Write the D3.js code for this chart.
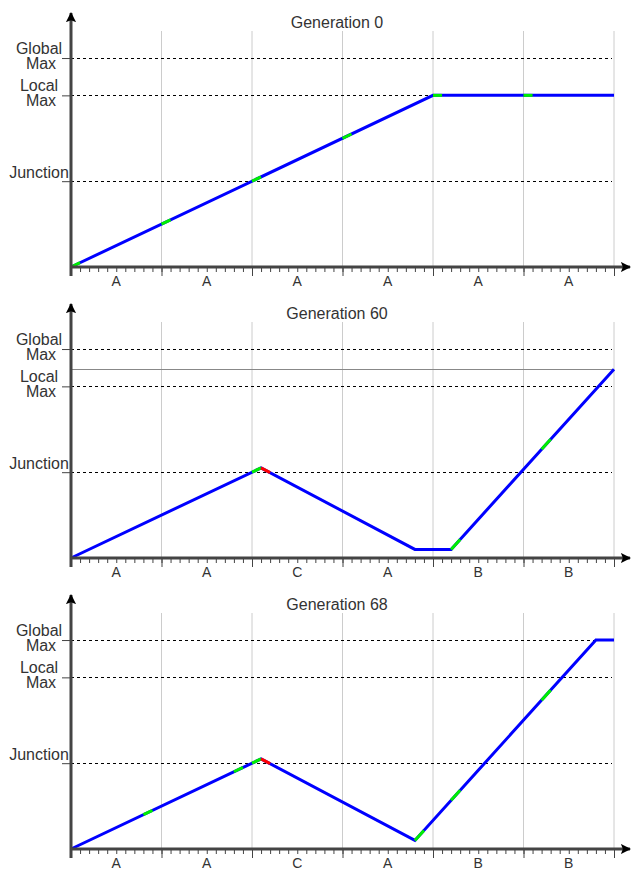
<!DOCTYPE html>
<html>
<meta charset="utf-8">
<style>
  body { margin: 0; background: #fff; }
  text { font-family: "Liberation Sans", Arial, sans-serif; fill: #333; }
  .grid { stroke: #ccc; stroke-width: 1px; }
  .ref { stroke: #000; stroke-width: 1px; stroke-dasharray: 3,3; }
  .axis path, .axis line { stroke: #444; }
</style>
<body>
<div id="viz"></div>
<script src="https://d3js.org/d3.v7.min.js"></script>
<script>
// titles and categories for each generation
var titles = ["Generation 0", "Generation 60", "Generation 68"];
var categories = [
  ["A", "A", "A", "A", "A", "A"],
  ["A", "A", "C", "A", "B", "B"],
  ["A", "A", "C", "A", "B", "B"]
];
// reference levels on the y axis
var levelNames = [["Global", "Max"], ["Local", "Max"], ["Junction"]];
var levelValues = [48.7, 40, 20];
// fitness path: [position, value]
var paths = [
  [[0, 0], [40, 40], [60, 40]],
  [[0, 0], [21, 21], [38, 2], [42, 2], [60, 44]],
  [[0, 0], [21, 21], [38, 2], [58, 48.7], [60, 48.7]]
];
// mutated pieces [from, to]
var greens = [
  [[0, 1], [10, 11], [20, 21], [30, 31], [40, 41], [50, 51]],
  [[20, 21], [42, 43], [52, 53]],
  [[8, 9], [18, 19], [20, 21], [38, 39], [42, 43], [52, 53]]
];
var reds = [[], [[21, 22]], [[21, 22]]];
var currentMax = [null, 44, null];

var svg = d3.select("#viz").append("svg")
  .attr("width", 632).attr("height", 869);

svg.append("defs").append("marker")
  .attr("id", "arrow")
  .attr("viewBox", "0 0 10 10")
  .attr("refX", 9).attr("refY", 5)
  .attr("markerWidth", 3.4).attr("markerHeight", 3.4)
  .attr("markerUnits", "strokeWidth")
  .attr("orient", "auto")
  .append("path").attr("d", "M0,0 L10,5 L0,10 L2,5 z").attr("fill", "#000");

var x = d3.scaleLinear().domain([0, 60]).range([71, 614]);
var baselines = [267, 558, 849];

// value of the path at position p
function valueAt(pts, p) {
  for (var i = 1; i < pts.length; i++) {
    if (p <= pts[i][0]) {
      var a = pts[i - 1], b = pts[i];
      return a[1] + (b[1] - a[1]) * (p - a[0]) / (b[0] - a[0]);
    }
  }
  return pts[pts.length - 1][1];
}
function piece(pts, s) {
  var out = [[s[0], valueAt(pts, s[0])]];
  pts.forEach(function(d) { if (d[0] > s[0] && d[0] < s[1]) out.push(d); });
  out.push([s[1], valueAt(pts, s[1])]);
  return out;
}

titles.forEach(function(title, k) {
  var base = baselines[k];
  var y = d3.scaleLinear().domain([0, 55]).range([base, base - 236]);
  var g = svg.append("g");

  // vertical grid
  g.selectAll(".grid").data(d3.range(10, 61, 10)).enter().append("line")
    .attr("class", "grid")
    .attr("x1", function(d) { return x(d); }).attr("x2", function(d) { return x(d); })
    .attr("y1", y(55)).attr("y2", base);

  // dashed reference levels
  g.selectAll(".ref").data(levelValues).enter().append("line")
    .attr("class", "ref")
    .attr("x1", x(0)).attr("x2", 612)
    .attr("y1", function(d) { return Math.round(y(d)) + 0.5; })
    .attr("y2", function(d) { return Math.round(y(d)) + 0.5; });

  if (currentMax[k] != null) {
    g.append("line")
      .attr("x1", x(0)).attr("x2", x(60))
      .attr("y1", Math.round(y(currentMax[k])) + 0.5).attr("y2", Math.round(y(currentMax[k])) + 0.5)
      .attr("stroke", "#888").attr("stroke-width", 1);
  }

  // fitness line
  var line = d3.line().x(function(d) { return x(d[0]); }).y(function(d) { return y(d[1]); });
  g.append("path").datum(paths[k]).attr("d", line)
    .attr("fill", "none").attr("stroke", "#0000ff").attr("stroke-width", 3);
  g.selectAll(".green").data(greens[k]).enter().append("path")
    .attr("d", function(s) { return line(piece(paths[k], s)); })
    .attr("fill", "none").attr("stroke", "#00ee00").attr("stroke-width", 3);
  g.selectAll(".red").data(reds[k]).enter().append("path")
    .attr("d", function(s) { return line(piece(paths[k], s)); })
    .attr("fill", "none").attr("stroke", "#ff0000").attr("stroke-width", 3);

  // x axis ticks
  g.append("g").attr("class", "axis")
    .attr("transform", "translate(0," + base + ")")
    .call(d3.axisBottom(x).tickValues(d3.range(0, 61)).tickSize(5).tickFormat(""))
    .call(function(a) { a.select(".domain").remove(); a.selectAll("line").attr("stroke", "#444"); });
  g.append("g").attr("class", "axis")
    .attr("transform", "translate(0," + base + ")")
    .call(d3.axisBottom(x).tickValues(d3.range(0, 61, 10)).tickSize(9).tickFormat(""))
    .call(function(a) { a.select(".domain").remove(); a.selectAll("line").attr("stroke", "#444"); });

  // y ticks at the levels
  g.append("g").attr("class", "axis")
    .attr("transform", "translate(" + x(0) + ",0)")
    .call(d3.axisLeft(y).tickValues(levelValues).tickSize(9).tickFormat(""))
    .call(function(a) { a.select(".domain").remove(); a.selectAll("line").attr("stroke", "#333"); });

  // axis lines with arrows
  g.append("line").attr("x1", x(0)).attr("x2", 630).attr("y1", base).attr("y2", base)
    .attr("stroke", "#444").attr("stroke-width", 3).attr("marker-end", "url(#arrow)");
  g.append("line").attr("x1", x(0)).attr("x2", x(0)).attr("y1", base + 9).attr("y2", base - 254)
    .attr("stroke", "#444").attr("stroke-width", 3).attr("marker-end", "url(#arrow)");

  // category labels
  g.selectAll(".cat").data(categories[k]).enter().append("text")
    .attr("x", function(d, i) { return x(i * 10 + 5); })
    .attr("y", base + 19)
    .attr("text-anchor", "middle").style("font-size", "14px")
    .text(function(d) { return d; });

  // level labels
  levelNames.forEach(function(names, i) {
    var ty = y(levelValues[i]);
    var t = g.append("text").attr("text-anchor", "middle").style("font-size", "16px");
    if (names.length == 1) {
      t.append("tspan").attr("x", 39).attr("y", ty - 3).text(names[0]);
    } else {
      t.append("tspan").attr("x", 39).attr("y", ty - 4).text(names[0]);
      t.append("tspan").attr("x", 41).attr("y", ty + 11).text(names[1]);
    }
  });

  g.append("text").attr("x", 337).attr("y", base - 239)
    .attr("text-anchor", "middle").style("font-size", "16px")
    .text(title);
});
</script>
</body>
</html>
